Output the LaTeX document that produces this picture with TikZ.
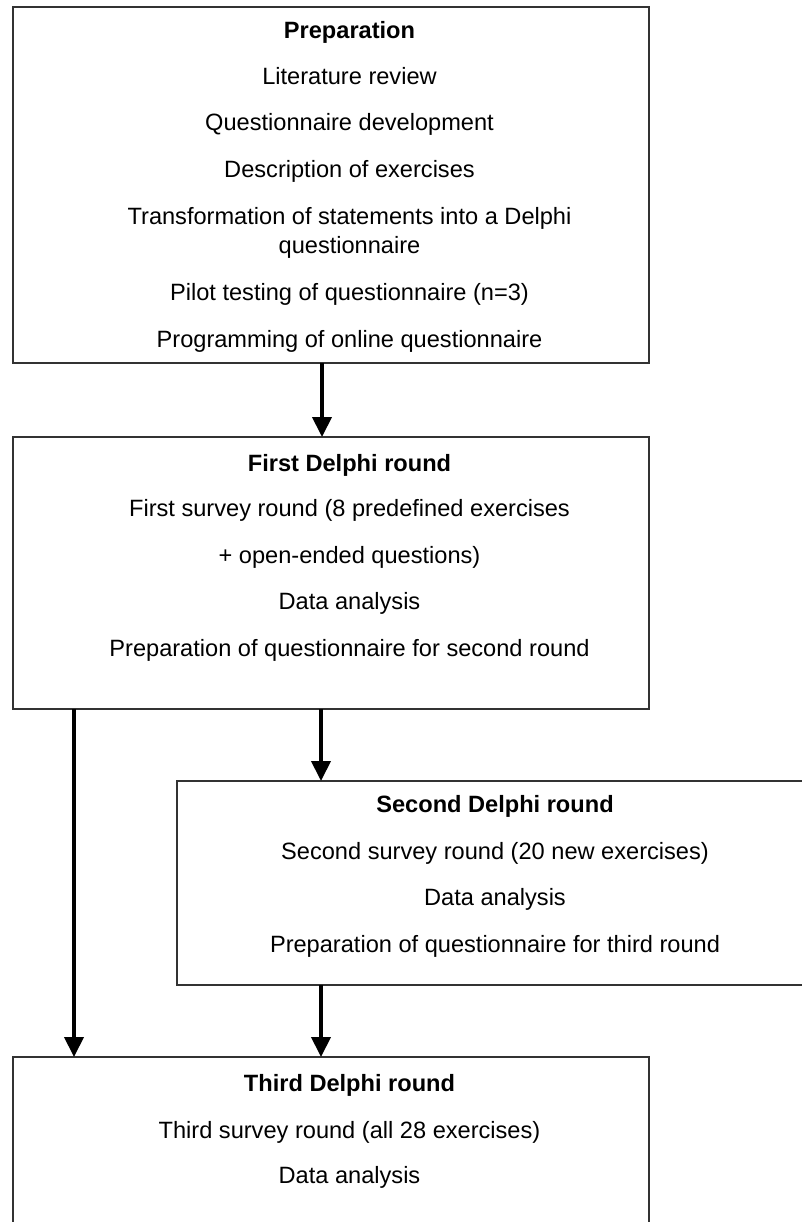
\documentclass[tikz,border=0pt]{standalone}
\usepackage{fontspec}
\setmainfont{Liberation Sans}
\usetikzlibrary{arrows.meta}
\tikzset{
  stagebox/.style={draw=black!80, line width=1.3pt, fill=none, inner sep=0pt, outer sep=0pt},
  txt/.style={anchor=base, inner sep=0pt, font=\fontsize{23.6}{28}\selectfont},
  head/.style={txt, font=\fontsize{23.6}{28}\selectfont\bfseries},
  flow/.style={line width=4pt, -{Triangle[width=19pt,length=20pt]}}
}
\begin{document}
\begin{tikzpicture}[x=1pt,y=-1pt]
\useasboundingbox (0,0) rectangle (802,1222);
\clip (0,0) rectangle (802,1222);

% stage frames
\node[stagebox, minimum width=636pt, minimum height=356pt] (prep)   at (331,185)    {};
\node[stagebox, minimum width=636pt, minimum height=272pt] (first)  at (331,573)    {};
\node[stagebox, minimum width=636pt, minimum height=204pt] (second) at (495,883)    {};
\node[stagebox, minimum width=636pt, minimum height=183pt] (third)  at (331,1148.5) {};

% Preparation
\node[head] (p0) at (349.5,38.5)  {Preparation};
\node[txt]  (p1) at (349.5,84.5)  {Literature review};
\node[txt]  (p2) at (349.5,131)   {Questionnaire development};
\node[txt]  (p3) at (349.5,177.5) {Description of exercises};
\node[txt]  (p4) at (349.5,224.5) {Transformation of statements into a Delphi};
\node[txt]  (p5) at (349.5,253.5) {questionnaire};
\node[txt]  (p6) at (349.5,301)   {Pilot testing of questionnaire (n=3)};
\node[txt]  (p7) at (349.5,347.5) {Programming of online questionnaire};

% First round
\node[head] (f0) at (349.5,471.5) {First Delphi round};
\node[txt]  (f1) at (349.5,516.5) {First survey round (8 predefined exercises};
\node[txt]  (f2) at (349.5,563.5) {+ open-ended questions)};
\node[txt]  (f3) at (349.5,609.5) {Data analysis};
\node[txt]  (f4) at (349.5,656.5) {Preparation of questionnaire for second round};

% Second round
\node[head] (s0) at (495,812.5) {Second Delphi round};
\node[txt]  (s1) at (495,859.5) {Second survey round (20 new exercises)};
\node[txt]  (s2) at (495,905.5) {Data analysis};
\node[txt]  (s3) at (495,952.5) {Preparation of questionnaire for third round};

% Third round
\node[head] (t0) at (349.5,1091.5) {Third Delphi round};
\node[txt]  (t1) at (349.5,1138.5) {Third survey round (all 28 exercises)};
\node[txt]  (t2) at (349.5,1183.5) {Data analysis};

% connector columns
\coordinate (colA) at (322,0);
\coordinate (colB) at (321,0);
\coordinate (colL) at (74,0);

\draw[flow] (prep.south -| colA)   -- (first.north -| colA);
\draw[flow] (first.south -| colB)  -- (second.north -| colB);
\draw[flow] (first.south -| colL)  -- (third.north -| colL);
\draw[flow] (second.south -| colB) -- (third.north -| colB);
\end{tikzpicture}
\end{document}
